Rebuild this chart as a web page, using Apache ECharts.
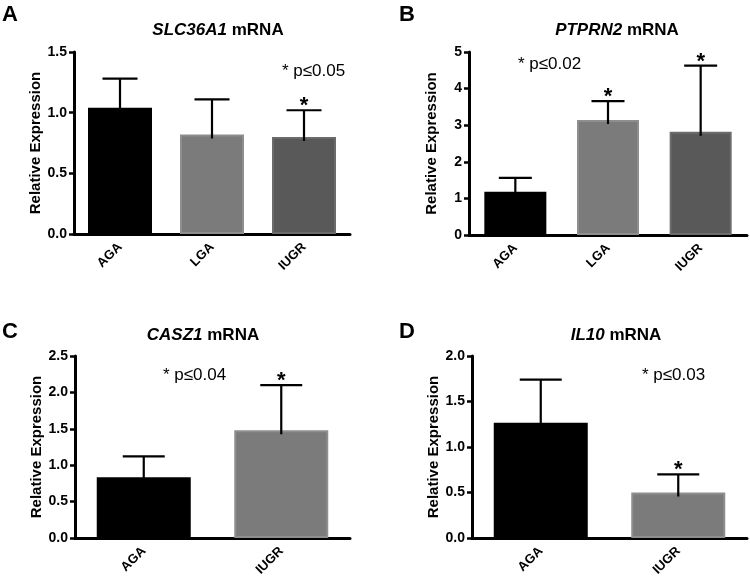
<!DOCTYPE html>
<html>
<head>
<meta charset="utf-8">
<script src="https://cdn.jsdelivr.net/npm/echarts@6/dist/echarts.min.js"></script>
<style>html,body{margin:0;padding:0;background:#fff;}#c{width:750px;height:581px;}</style>
</head>
<body>
<div id="c"></div>
<script>
// ---- data ----
var catsA = ['AGA', 'LGA', 'IUGR'];
var meanA = [1.04, 0.82, 0.80];
var upperA = [1.28, 1.11, 1.02];
var sigA = [0, 0, 1];
var ticksA = [0, 0.5, 1.0, 1.5];

var catsB = ['AGA', 'LGA', 'IUGR'];
var meanB = [1.18, 3.14, 2.82];
var upperB = [1.56, 3.66, 4.63];
var sigB = [0, 1, 1];
var ticksB = [0, 1, 2, 3, 4, 5];

var catsC = ['AGA', 'IUGR'];
var meanC = [0.835, 1.48];
var upperC = [1.12, 2.10];
var sigC = [0, 1];
var ticksC = [0, 0.5, 1.0, 1.5, 2.0, 2.5];

var catsD = ['AGA', 'IUGR'];
var meanD = [1.266, 0.50];
var upperD = [1.74, 0.70];
var sigD = [0, 1];
var ticksD = [0, 0.5, 1.0, 1.5, 2.0];

var genes = ['SLC36A1', 'PTPRN2', 'CASZ1', 'IL10'];
var letters = ['A', 'B', 'C', 'D'];
var pTexts = ['* p\u22640.05', '* p\u22640.02', '* p\u22640.04', '* p\u22640.03'];

// ---- style ----
var FONT = 'Liberation Sans, Arial, sans-serif';
var BLACK = '#000000', GRAY = '#7b7b7b', GRAYB = '#8e8e8e', DARK = '#595959', DARKB = '#6b6b6b';
var colorsThree = [[BLACK, BLACK], [GRAY, GRAYB], [DARK, DARKB]];
var colorsTwo = [[BLACK, BLACK], [GRAY, GRAYB]];

var panels = [
  {cats: catsA, mean: meanA, upper: upperA, sig: sigA, ticks: ticksA, dec: 1,
   grid: {left: 74, top: 52, width: 276, height: 182}, barW: 64, cap: 35, cols: colorsThree,
   title: [213, 25], letter: [2, 4], ptext: [282, 73]},
  {cats: catsB, mean: meanB, upper: upperB, sig: sigB, ticks: ticksB, dec: 0,
   grid: {left: 469, top: 52, width: 278, height: 183}, barW: 62, cap: 33, cols: colorsThree,
   title: [612, 25], letter: [399, 4], ptext: [518, 66]},
  {cats: catsC, mean: meanC, upper: upperC, sig: sigC, ticks: ticksC, dec: 1,
   grid: {left: 75, top: 356, width: 275, height: 182}, barW: 94, cap: 42, cols: colorsTwo,
   title: [198, 330], letter: [2, 321], ptext: [163, 377]},
  {cats: catsD, mean: meanD, upper: upperD, sig: sigD, ticks: ticksD, dec: 1,
   grid: {left: 472, top: 356, width: 275, height: 182}, barW: 94, cap: 42, cols: colorsTwo,
   title: [611, 330], letter: [399, 321], ptext: [642, 377]}
];

var option = {
  animation: false,
  backgroundColor: '#fff',
  grid: [], xAxis: [], yAxis: [], series: [], title: [], graphic: []
};

panels.forEach(function (p, i) {
  option.grid.push(p.grid);
  var tks = p.ticks;
  option.xAxis.push({
    type: 'category', gridIndex: i, data: p.cats,
    axisLine: {lineStyle: {color: '#000', width: 3}},
    axisTick: {alignWithLabel: true, length: 7, lineStyle: {color: '#000', width: 2.5}},
    axisLabel: {rotate: 45, margin: 11, color: '#000', fontWeight: 'bold', fontSize: 13, fontFamily: FONT}
  });
  option.yAxis.push({
    type: 'value', gridIndex: i, min: tks[0], max: tks[tks.length - 1],
    interval: tks[1] - tks[0],
    name: 'Relative Expression', nameLocation: 'middle', nameGap: 30,
    nameTextStyle: {color: '#000', fontWeight: 'bold', fontSize: 15, fontFamily: FONT},
    splitLine: {show: false},
    axisLine: {show: true, lineStyle: {color: '#000', width: 3}},
    axisTick: {show: true, length: 5, lineStyle: {color: '#000', width: 2.5}},
    axisLabel: {margin: 7, color: '#000', fontWeight: 'bold', fontSize: 14, fontFamily: FONT,
      formatter: function (v) { return v.toFixed(p.dec); }}
  });
  option.series.push({
    type: 'bar', xAxisIndex: i, yAxisIndex: i, barWidth: p.barW,
    data: p.mean.map(function (v, k) {
      return {value: v, itemStyle: {color: p.cols[k][0], borderColor: p.cols[k][1], borderWidth: k === 0 ? 0 : 2}};
    }),
    z: 2
  });
  option.series.push({
    type: 'custom', xAxisIndex: i, yAxisIndex: i, z: 5,
    data: p.mean.map(function (v, k) { return [k, v, p.upper[k], p.sig[k]]; }),
    renderItem: function (params, api) {
      var p0 = api.coord([api.value(0), api.value(1)]);
      var p1 = api.coord([api.value(0), api.value(2)]);
      var half = p.cap / 2;
      var ch = [
        {type: 'line', shape: {x1: p0[0], y1: p0[1] + 4, x2: p1[0], y2: p1[1]}, style: {stroke: '#000', lineWidth: 2.2}},
        {type: 'line', shape: {x1: p1[0] - half, y1: p1[1], x2: p1[0] + half, y2: p1[1]}, style: {stroke: '#000', lineWidth: 2.2}}
      ];
      if (api.value(3)) {
        ch.push({type: 'text', style: {text: '*', x: p1[0], y: p1[1] - 4, align: 'center', verticalAlign: 'middle',
          fill: '#000', font: 'bold 22px ' + FONT}});
      }
      return {type: 'group', children: ch};
    }
  });
  option.title.push({
    text: '{i|' + genes[i] + '} mRNA', left: p.title[0], top: p.title[1], textAlign: 'center',
    textVerticalAlign: 'middle',
    textStyle: {color: '#000', fontWeight: 'bold', fontSize: 17, fontFamily: FONT,
      rich: {i: {fontStyle: 'italic', fontWeight: 'bold', fontSize: 17, fontFamily: FONT, color: '#000'}}}
  });
  option.graphic.push({type: 'text', left: p.letter[0], top: p.letter[1],
    style: {text: letters[i], fill: '#000', font: 'bold 22px ' + FONT}});
  option.graphic.push({type: 'text', left: p.ptext[0], top: p.ptext[1] - 10,
    style: {text: pTexts[i], fill: '#000', font: '17px ' + FONT}});
});

var chart = echarts.init(document.getElementById('c'), null, {renderer: 'canvas'});
chart.setOption(option);
</script>
</body>
</html>
